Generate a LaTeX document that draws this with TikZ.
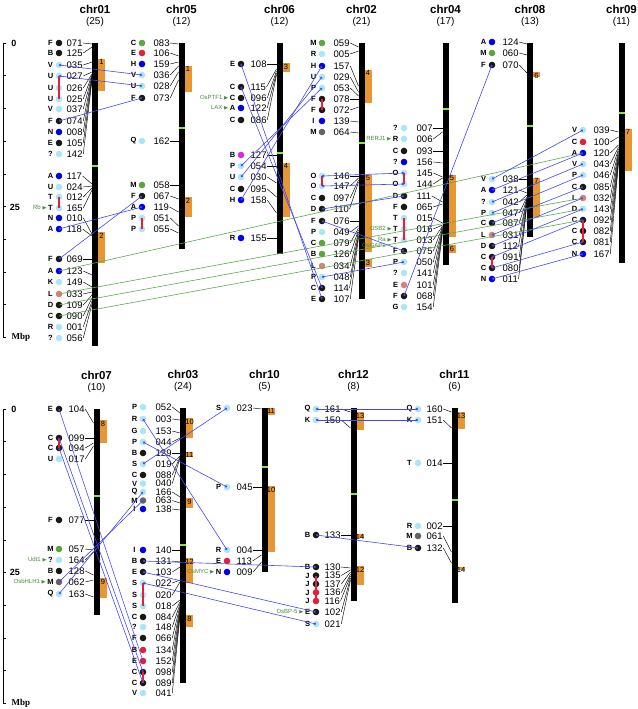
\documentclass[tikz,border=0pt]{standalone}
\usepackage{amssymb}
\usepackage{fontspec}
\setmainfont{Liberation Sans}
\newfontfamily\seriffont{Liberation Serif}
\usetikzlibrary{positioning}
\usetikzlibrary{arrows.meta}

\definecolor{mkdark}{RGB}{25,25,20}
\definecolor{mklight}{RGB}{170,230,250}
\definecolor{mkblue}{RGB}{0,0,240}
\definecolor{mkgreen}{RGB}{90,165,60}
\definecolor{mkred}{RGB}{230,30,60}
\definecolor{mksalmon}{RGB}{215,130,120}
\definecolor{mkmagenta}{RGB}{220,40,220}
\definecolor{mkgrey}{RGB}{100,100,100}
\definecolor{qtlc}{RGB}{230,150,50}
\definecolor{cenc}{RGB}{130,230,80}
\definecolor{homc}{RGB}{70,70,245}
\definecolor{grl}{RGB}{90,170,80}
\definecolor{genec}{RGB}{70,140,60}

\begin{document}
\begin{tikzpicture}[x=1pt, y=-1pt,
    lett/.style={font=\fontsize{7.5}{8}\selectfont\bfseries, inner sep=0pt},
    mkdot/.style={circle, minimum size=6.6pt, inner sep=0pt},
    num/.style={anchor=west, inner sep=0.5pt, font=\fontsize{9.5}{9.5}\selectfont},
    lead/.style={line width=0.45pt},
    chrname/.style={font=\fontsize{11.5}{12}\selectfont\bfseries},
    chrcount/.style={font=\fontsize{10}{10}\selectfont},
    qtlnum/.style={anchor=north, inner sep=0.6pt, font=\fontsize{7.5}{8}\selectfont},
    redbar/.style={mkred, line width=1.6pt},
    hom/.style={homc, line width=0.6pt, {Circle[length=2.2pt]}-{Circle[length=2.2pt]}},
    grn/.style={grl, line width=0.6pt},
    gene/.style={genec, font=\fontsize{6}{6}\selectfont, inner sep=0.3pt}]
    \useasboundingbox[fill=white] (0,0) rectangle (637,709);
    \def\tri{{\tiny$\blacktriangleright$}}
    \def\chrom#1#2#3#4#5#6{%
        \node[chrname] (t#1) at (#2,#3-34) {chr#1};
        \node[chrcount] (k#1) at (#2,#3-21) {(#6)};
        \fill (#2-3,#3) rectangle (#2+3,#4);
        \fill[cenc] (#2-3,#5-1.3) rectangle (#2+3,#5+1.3);}
    \def\qtl#1#2#3#4#5{%
        \fill[qtlc] (#2+3,#3) rectangle (#2+10,#4);
        \node[qtlnum] (q#1) at (#2+6.5,#3) {#5};}
    \def\mk#1#2#3#4#5{%
        \node[lett] (l#1) at (\dx-8.5,#4) {#2};
        \node[mkdot, fill=#3] (d#1) at (\dx,#4) {};
        \node[num] (n#1) at (\nx,#4) {#1};
        \coordinate (b#1) at (\bx,#5);
        \draw[lead] (n#1.east) -- (b#1);}

    % scale bars
    \foreach \yo in {0,366} {
        \draw[line width=0.8pt] (3,43+\yo) -- (3,337+\yo);
        \foreach \k in {0,...,9}
            \draw[line width=0.6pt] (3,43+\yo+32.7*\k) -- (6,43+\yo+32.7*\k);
    }
    \node[font=\bfseries\small] (s0) at (14,43) {0};
    \node[font=\bfseries\small] (s25) at (15,207) {25};
    \node[font=\seriffont\bfseries\small] (sM) at (21,337) {Mbp};
    \node[font=\bfseries\small] (u0) at (14,409) {0};
    \node[font=\bfseries\small] (u25) at (15,572) {25};
    \node[font=\seriffont\bfseries\small] (uM) at (21,703) {Mbp};

    % chr01
    \chrom{01}{95}{43}{346}{166}{25}
    \qtl{01a}{95}{59}{91}{1}
    \qtl{01b}{95}{232}{263}{2}
    \def\dx{59}\def\nx{66}\def\bx{92}
    \mk{071}{F}{mkdark}{43}{44}
    \mk{125}{B}{mkdark}{53}{47}
    \mk{035}{V}{mklight}{65}{62}
    \mk{027}{U}{mklight}{76}{72}
    \mk{026}{U}{mklight}{88}{74}
    \mk{025}{U}{mklight}{99}{75}
    \mk{037}{V}{mklight}{109}{76}
    \mk{074}{F}{mkdark}{121}{77}
    \mk{008}{N}{mkblue}{132}{78}
    \mk{105}{E}{mkdark}{143}{79}
    \mk{142}{?}{mklight}{154}{80}
    \mk{117}{A}{mkblue}{176}{184}
    \mk{024}{U}{mklight}{187}{186}
    \mk{012}{T}{mklight}{197}{188}
    \mk{165}{T}{mklight}{208}{190}
    \mk{010}{N}{mkblue}{218}{234}
    \mk{118}{A}{mkblue}{229}{236}
    \mk{069}{F}{mkdark}{259}{259}
    \mk{123}{A}{mkblue}{271}{275}
    \mk{149}{K}{mklight}{282}{287}
    \mk{033}{L}{mksalmon}{294}{292}
    \mk{109}{D}{mkdark}{305}{295}
    \mk{090}{C}{mkdark}{316}{298}
    \mk{001}{R}{mklight}{327}{301}
    \mk{056}{?}{mklight}{338}{304}
    \draw[redbar] (d027.center) -- (d025.center);
    \draw[redbar] (d012.center) -- (d165.center);
    \node[gene, left=0.3pt of l165] (gRb) {Rb\,\tri};

    % chr05
    \chrom{05}{181.5}{43}{249}{128}{12}
    \qtl{05a}{181.5}{66}{92}{1}
    \qtl{05b}{181.5}{197}{217}{2}
    \def\dx{142}\def\nx{153}\def\bx{178.5}
    \mk{083}{C}{mkgreen}{43}{44}
    \mk{106}{E}{mkred}{53}{56}
    \mk{159}{H}{mkblue}{64}{62}
    \mk{036}{V}{mklight}{75}{66}
    \mk{028}{U}{mklight}{86}{72}
    \mk{073}{F}{mkdark}{98}{80}
    \mk{162}{Q}{mklight}{141}{141}
    \mk{058}{M}{mkgreen}{185}{185}
    \mk{067}{F}{mkdark}{196}{199}
    \mk{119}{A}{mkblue}{207}{212}
    \mk{051}{P}{mklight}{218}{226}
    \mk{055}{P}{mklight}{229}{233}
    \draw[redbar] (d051.center) -- (d055.center);

    % chr06
    \chrom{06}{279.5}{43}{254}{153}{12}
    \qtl{06a}{279.5}{63}{72}{3}
    \qtl{06b}{279.5}{163}{217}{4}
    \def\dx{241}\def\nx{250}\def\bx{276.5}
    \mk{108}{E}{mkdark}{64}{64}
    \mk{115}{C}{mkdark}{87}{69}
    \mk{096}{C}{mkdark}{98}{71}
    \mk{122}{A}{mkblue}{108}{73}
    \mk{086}{C}{mkdark}{120}{75}
    \mk{127}{B}{mkmagenta}{155}{155}
    \mk{054}{P}{mklight}{166}{166}
    \mk{030}{U}{mklight}{177}{183}
    \mk{095}{C}{mkdark}{189}{197}
    \mk{158}{H}{mkblue}{200}{213}
    \mk{155}{R}{mkblue}{238}{238}
    \node[gene, left=0.3pt of l096] (gPTF) {OsPTF1\,\tri};
    \node[gene, left=0.3pt of l122] (gLAX) {LAX\,\tri};

    % chr02
    \chrom{02}{361.5}{43}{299}{143}{21}
    \qtl{02a}{361.5}{70}{103}{4}
    \qtl{02b}{361.5}{175}{252}{5}
    \qtl{02c}{361.5}{259}{267}{3}
    \def\dx{322}\def\nx{333}\def\bx{358.5}
    \mk{059}{M}{mkgreen}{43}{47}
    \mk{005}{R}{mklight}{54}{51}
    \mk{157}{H}{mkblue}{66}{86}
    \mk{029}{U}{mklight}{77}{92}
    \mk{053}{P}{mklight}{88}{96}
    \mk{078}{F}{mkdark}{99}{99}
    \mk{072}{F}{mkdark}{110}{107}
    \mk{139}{I}{mkblue}{121}{122}
    \mk{064}{M}{mkgrey}{132}{133}
    \mk{146}{O}{mklight}{176}{176}
    \mk{147}{O}{mklight}{186}{178}
    \mk{097}{C}{mkdark}{198}{180}
    \mk{110}{D}{mkdark}{209}{182}
    \mk{076}{F}{mkdark}{221}{221}
    \mk{049}{P}{mklight}{232}{226}
    \mk{079}{C}{mkgreen}{243}{228}
    \mk{126}{B}{mkgreen}{254}{230}
    \mk{034}{L}{mksalmon}{266}{232}
    \mk{048}{P}{mklight}{277}{234}
    \mk{114}{C}{mkdark}{288}{236}
    \mk{107}{E}{mkdark}{299}{238}
    \draw[redbar] (d078.center) -- (d072.center);
    \draw[redbar] (d146.center) -- (d147.center);

    % chr04
    \chrom{04}{445.5}{43}{265}{109}{17}
    \qtl{04a}{445.5}{175}{237}{5}
    \qtl{04b}{445.5}{245}{253}{6}
    \def\dx{404}\def\nx{416}\def\bx{442.5}
    \mk{007}{?}{mklight}{128}{128}
    \mk{006}{R}{mklight}{139}{132}
    \mk{093}{C}{mkdark}{151}{151}
    \mk{156}{?}{mkblue}{162}{163}
    \mk{145}{O}{mklight}{173}{177}
    \mk{144}{O}{mklight}{184}{178}
    \mk{111}{D}{mkdark}{196}{202}
    \mk{065}{F}{mkdark}{207}{204}
    \mk{015}{T}{mklight}{218}{223}
    \mk{016}{T}{mklight}{229}{225}
    \mk{013}{T}{mklight}{240}{226}
    \mk{075}{F}{mkdark}{251}{227}
    \mk{050}{P}{mklight}{262}{228}
    \mk{141}{?}{mklight}{273}{229}
    \mk{101}{E}{mksalmon}{285}{230}
    \mk{068}{F}{mkdark}{296}{231}
    \mk{154}{G}{mklight}{307}{232}
    \draw[redbar] (d145.center) -- (d144.center);
    \draw[redbar] (d015.center) -- (d013.center);
    \node[gene, left=0.3pt of l006] (gRER) {RERJ1\,\tri};
    \node[gene, left=0.3pt of l016] (gOSB) {OSB2\,\tri};
    \node[gene, left=0.3pt of l013] (gRa) {Ra\,\tri};
    \node[gene, anchor=north east] (gGAP) at (gRa.south east) {OsGAP1\phantom{\,\tri}};

    % chr08
    \chrom{08}{530}{43}{237}{126}{13}
    \qtl{08a}{530}{72}{77}{6}
    \qtl{08b}{530}{178}{217}{7}
    \def\dx{492}\def\nx{502}\def\bx{527}
    \mk{124}{A}{mkblue}{42}{44}
    \mk{060}{M}{mkgreen}{53}{55}
    \mk{070}{F}{mkdark}{65}{73}
    \mk{038}{V}{mklight}{179}{179}
    \mk{121}{A}{mkblue}{190}{193}
    \mk{042}{?}{mklight}{202}{195}
    \mk{047}{P}{mklight}{213}{197}
    \mk{087}{C}{mkdark}{223}{198}
    \mk{031}{L}{mksalmon}{235}{199}
    \mk{112}{D}{mkdark}{246}{200}
    \mk{091}{C}{mkdark}{257}{201}
    \mk{080}{C}{mkdark}{268}{202}
    \mk{011}{N}{mkblue}{279}{203}
    \draw[redbar] (d091.center) -- (d080.center);

    % chr09
    \chrom{09}{621.5}{43}{263}{113}{11}
    \qtl{09a}{621.5}{129}{171}{7}
    \def\dx{583}\def\nx{593}\def\bx{618.5}
    \mk{039}{V}{mklight}{130}{132}
    \mk{100}{C}{mkred}{142}{137}
    \mk{120}{A}{mkblue}{153}{145}
    \mk{043}{V}{mklight}{164}{147}
    \mk{046}{P}{mklight}{175}{149}
    \mk{085}{C}{mkdark}{187}{151}
    \mk{032}{L}{mksalmon}{198}{153}
    \mk{143}{D}{mklight}{209}{155}
    \mk{092}{C}{mkdark}{220}{157}
    \mk{082}{C}{mkdark}{231}{159}
    \mk{081}{C}{mkdark}{242}{161}
    \mk{167}{N}{mkblue}{254}{163}
    \draw[redbar] (d092.center) -- (d081.center);

    % chr07
    \chrom{07}{96.5}{409}{615}{496}{10}
    \qtl{07a}{96.5}{420}{443}{8}
    \qtl{07b}{96.5}{578}{598}{9}
    \def\dx{59}\def\nx{68}\def\bx{93.5}
    \mk{104}{E}{mkdark}{409}{423}
    \mk{099}{C}{mkdark}{438}{438}
    \mk{094}{C}{mkdark}{448}{443}
    \mk{017}{U}{mklight}{459}{446}
    \mk{077}{F}{mkdark}{520}{520}
    \mk{057}{M}{mkgreen}{549}{550}
    \mk{164}{?}{mklight}{560}{552}
    \mk{128}{B}{mkdark}{571}{575}
    \mk{062}{M}{mkgrey}{582}{580}
    \mk{163}{Q}{mklight}{594}{597}
    \draw[redbar] (d099.center) -- (d094.center);
    \node[gene, left=0.3pt of l164] (gUdt) {Udt1\,\tri};
    \node[gene, left=0.3pt of l062] (gHLH) {OsbHLH1\,\tri};

    % chr03
    \chrom{03}{183}{408}{683}{545}{24}
    \qtl{03a}{183}{418}{438}{10}
    \qtl{03b}{183}{452}{457}{11}
    \qtl{03c}{183}{498}{508}{9}
    \qtl{03d}{183}{558}{583}{12}
    \qtl{03e}{183}{615}{627}{8}
    \def\dx{143}\def\nx{155}\def\bx{180}
    \mk{052}{P}{mklight}{407}{413}
    \mk{003}{R}{mklight}{419}{420}
    \mk{153}{G}{mklight}{431}{433}
    \mk{044}{P}{mklight}{442}{438}
    \mk{129}{B}{mkdark}{453}{453}
    \mk{019}{S}{mklight}{464}{456}
    \mk{088}{C}{mkdark}{475}{457}
    \mk{040}{V}{mklight}{483.5}{458}
    \mk{166}{Q}{mklight}{492}{497}
    \mk{063}{M}{mkgrey}{500.5}{503}
    \mk{138}{I}{mkblue}{509}{510}
    \mk{140}{I}{mkblue}{550}{550}
    \mk{131}{B}{mkdark}{561}{562}
    \mk{103}{E}{mkdark}{572}{567}
    \mk{022}{S}{mklight}{583}{580}
    \mk{020}{S}{mklight}{595}{582}
    \mk{018}{S}{mklight}{606}{600}
    \mk{084}{C}{mkdark}{617}{602}
    \mk{148}{?}{mklight}{627}{604}
    \mk{066}{F}{mkdark}{638}{606}
    \mk{134}{B}{mkred}{650}{608}
    \mk{152}{E}{mkred}{661}{610}
    \mk{098}{C}{mkdark}{672}{612}
    \mk{089}{C}{mkdark}{683}{614}
    \mk{041}{V}{mklight}{693}{616}
    \draw[redbar] (d022.center) -- (d018.center);
    \draw[redbar] (d098.center) -- (d089.center);

    % chr10
    \chrom{10}{264.5}{408}{572}{467}{5}
    \qtl{10a}{264.5}{408}{415}{11}
    \qtl{10b}{264.5}{486}{552}{10}
    \def\dx{227}\def\nx{236}\def\bx{261.5}
    \mk{023}{S}{mklight}{408}{409}
    \mk{045}{P}{mklight}{487}{487}
    \mk{004}{R}{mklight}{550}{550}
    \mk{113}{E}{mkred}{561}{555}
    \mk{009}{N}{mkblue}{572}{562}
    \node[gene, left=0.3pt of l009] (gMYC) {OsMYC\,\tri};

    % chr12
    \chrom{12}{353.5}{408}{601}{494}{8}
    \qtl{12a}{353.5}{412}{430}{13}
    \qtl{12b}{353.5}{534}{538}{14}
    \qtl{12c}{353.5}{566}{585}{12}
    \def\dx{316}\def\nx{324}\def\bx{350.5}
    \mk{161}{Q}{mklight}{409}{412}
    \mk{150}{K}{mklight}{420}{428}
    \mk{133}{B}{mkdark}{535}{535}
    \mk{130}{B}{mkdark}{567}{568}
    \mk{135}{J}{mkdark}{575.5}{570}
    \mk{137}{J}{mkdark}{584}{572}
    \mk{136}{J}{mkred}{592.5}{574}
    \mk{116}{J}{mkred}{601}{576}
    \mk{102}{E}{mkdark}{612}{578}
    \mk{021}{S}{mklight}{624}{580}
    \draw[redbar] (d135.center) -- (d116.center);
    \node[gene, left=0.3pt of l102] (gBP) {OsBP-5\,\tri};

    % chr11
    \chrom{11}{454.5}{408}{603}{500}{6}
    \qtl{11a}{454.5}{412}{429}{13}
    \qtl{11b}{454.5}{567}{570}{14}
    \def\dx{418}\def\nx{426}\def\bx{451.5}
    \mk{160}{Q}{mklight}{409}{412}
    \mk{151}{K}{mklight}{420}{428}
    \mk{014}{T}{mklight}{463}{463}
    \mk{002}{R}{mklight}{526}{526}
    \mk{061}{M}{mkgrey}{536}{552}
    \mk{132}{B}{mkdark}{548}{563}

    % long links
    \draw[grn] (d123.center) -- (d120.center);
    \draw[grn] (d033.center) -- (d032.center);
    \draw[grn] (d109.center) -- (d143.center);
    \draw[grn] (d090.center) -- (d092.center);

    \draw[hom] (d035.center) -- (d036.center);
    \draw[hom] (d027.center) -- (d028.center);
    \draw[hom] (d074.center) -- (d073.center);
    \draw[hom] (d118.center) -- (d119.center);
    \draw[hom] (d069.center) -- (d067.center);
    \draw[hom] (d108.center) -- (d107.center);
    \draw[hom] (d115.center) -- (d114.center);
    \draw[hom] (d054.center) -- (d053.center);
    \draw[hom] (d030.center) -- (d029.center);
    \draw[hom] (d158.center) -- (d157.center);
    \draw[hom] (d146.center) -- (d145.center);
    \draw[hom] (d147.center) -- (d144.center);
    \draw[hom] (d110.center) -- (d111.center);
    \draw[hom] (d076.center) -- (d075.center);
    \draw[hom] (d048.center) -- (d050.center);
    \draw[hom] (d068.center) -- (d070.center);
    \draw[hom] (d038.center) -- (d039.center);
    \draw[hom] (d121.center) -- (d120.center);
    \draw[hom] (d042.center) -- (d043.center);
    \draw[hom] (d047.center) -- (d046.center);
    \draw[hom] (d087.center) -- (d085.center);
    \draw[hom] (d031.center) -- (d032.center);
    \draw[hom] (d112.center) -- (d143.center);
    \draw[hom] (d091.center) -- (d092.center);
    \draw[hom] (d080.center) -- (d081.center);
    \draw[hom] (d011.center) -- (d167.center);

    \draw[hom] (d104.center) -- (d152.center);
    \draw[hom] (d099.center) -- (d098.center);
    \draw[hom] (d094.center) -- (d089.center);
    \draw[hom] (d163.center) -- (d166.center);
    \draw[hom] (d062.center) -- (d063.center);
    \draw[hom] (d003.center) -- (d004.center);
    \draw[hom] (d044.center) -- (d045.center);
    \draw[hom] (d019.center) -- (d023.center);
    \draw[hom] (d131.center) -- (d130.center);
    \draw[hom] (d103.center) -- (d102.center);
    \draw[hom] (d022.center) -- (d021.center);
    \draw[hom] (d161.center) -- (d160.center);
    \draw[hom] (d150.center) -- (d151.center);
    \draw[hom] (d133.center) -- (d132.center);
\end{tikzpicture}
\end{document}
